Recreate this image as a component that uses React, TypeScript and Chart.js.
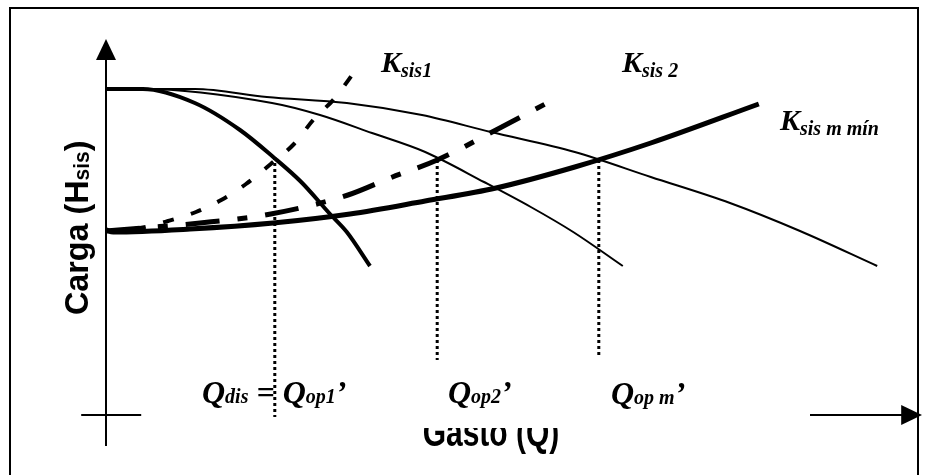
import React, { useEffect, useRef } from "react";
import { Chart, registerables } from "chart.js";

Chart.register(...registerables);

// Pump head curves (flow Q, head H), arbitrary units
const pump1Q = [0, 4.6, 11.1, 16.75, 20.9, 24.4, 28, 30.1, 33];
const pump1H = [81.5, 81.5, 78, 71.25, 64.5, 58.25, 50.25, 45.75, 37.25];

const pump2Q = [0, 4.6, 20.75, 26.75, 33.25, 39.9, 47.25, 53.1, 58.4, 64.6];
const pump2H = [81.5, 81.5, 78, 75, 70.5, 65.75, 58.25, 52, 45.75, 37.25];

const pumpMQ = [0, 11.1, 20.1, 30.1, 39.5, 48.1, 58.6, 68.1, 78, 86.75, 96.4];
const pumpMH = [81.5, 81.5, 79.5, 78, 75, 70.75, 65.75, 59.5, 53, 46, 37.25];

// System curves
const sys1Q = [0, 4.25, 7.75, 11.25, 14.4, 17.5, 20.6, 23.5, 26, 28.5, 31.4];
const sys1H = [46, 46.75, 48.5, 50.75, 53.75, 57.75, 62.75, 67.75, 74, 79, 86.75];

const sys2Q = [0, 4.5, 11.75, 20.6, 30.25, 35.5, 41.4, 48.75, 54.9];
const sys2H = [46, 46.75, 48, 50.25, 55, 59.25, 63.75, 71.25, 77.75];

const sysMQ = [0, 0.9, 10.5, 20.9, 30.5, 39.9, 48.75, 58.6, 68.1, 81.6];
const sysMH = [46.25, 45.75, 46.5, 48, 50.25, 53.5, 56.75, 62, 68, 77.75];

// Operating points: flow and the head where the curves meet
const opQ = [21.1, 41.4, 61.6];
const opH = [64.5, 63.75, 63.75];
const opLowH = [-0.5, 13.75, 14.25];

const pts = (qs: number[], hs: number[]) => qs.map((q, i) => ({ x: q, y: hs[i] }));

type Part = { text: string; size: number; dy?: number };

function drawRich(
  ctx: CanvasRenderingContext2D,
  x: number,
  y: number,
  parts: Part[],
  style: string,
  family: string,
  sx = 1
) {
  ctx.save();
  ctx.translate(x, y);
  ctx.scale(sx, 1);
  ctx.textBaseline = "alphabetic";
  ctx.textAlign = "left";
  let cx = 0;
  for (const p of parts) {
    ctx.font = `${style} ${p.size}px ${family}`;
    ctx.fillText(p.text, cx, p.dy || 0);
    cx += ctx.measureText(p.text).width;
  }
  ctx.restore();
}

const SERIF = '"Liberation Serif", "Times New Roman", serif';
const SANS = '"Liberation Sans", Arial, sans-serif';

const decorations = {
  id: "decorations",
  beforeDraw(chart: any) {
    const { ctx, width, height } = chart;
    ctx.save();
    ctx.fillStyle = "#fff";
    ctx.fillRect(0, 0, width, height);
    ctx.strokeStyle = "#000";
    ctx.lineWidth = 2;
    ctx.strokeRect(10, 8, 908, height + 20);
    ctx.restore();
  },
  afterDatasetsDraw(chart: any) {
    const { ctx } = chart;
    const xs = chart.scales.x;
    const ys = chart.scales.y;
    const X = (v: number) => xs.getPixelForValue(v);
    const Y = (v: number) => ys.getPixelForValue(v);
    ctx.save();
    ctx.strokeStyle = "#000";
    ctx.fillStyle = "#000";
    ctx.lineWidth = 2;

    // vertical axis with arrow
    const x0 = X(0);
    ctx.beginPath();
    ctx.moveTo(x0, Y(-7.75));
    ctx.lineTo(x0, Y(89));
    ctx.stroke();
    ctx.beginPath();
    ctx.moveTo(x0, Y(94));
    ctx.lineTo(x0 - 10, Y(88.75));
    ctx.lineTo(x0 + 10, Y(88.75));
    ctx.closePath();
    ctx.fill();

    // horizontal axis: short cross at origin and arrow at the right
    const y0 = Y(0);
    ctx.beginPath();
    ctx.moveTo(X(-3.1), y0);
    ctx.lineTo(X(4.4), y0);
    ctx.moveTo(X(88), y0);
    ctx.lineTo(X(99.5), y0);
    ctx.stroke();
    ctx.beginPath();
    ctx.moveTo(X(102), y0);
    ctx.lineTo(X(99.4), y0 - 10);
    ctx.lineTo(X(99.4), y0 + 10);
    ctx.closePath();
    ctx.fill();

    // axis titles
    ctx.save();
    ctx.translate(88, 315);
    ctx.rotate(-Math.PI / 2);
    drawRich(ctx, 0, 0, [
      { text: "Carga (H", size: 34 },
      { text: "sis", size: 22, dy: 1 },
      { text: ")", size: 34 },
    ], "bold", SANS, 0.95);
    ctx.restore();

    ctx.save();
    ctx.beginPath();
    ctx.rect(0, 428, chart.width, chart.height - 428);
    ctx.clip();
    ctx.translate(491, 446);
    ctx.scale(0.75, 1);
    ctx.font = `bold 40px ${SANS}`;
    ctx.textAlign = "center";
    ctx.fillText("Gasto (Q)", 0, 0);
    ctx.restore();

    // curve labels
    const kLabel = (x: number, y: number, sub: string) =>
      drawRich(ctx, x, y, [
        { text: "K", size: 30 },
        { text: sub, size: 20, dy: 5 },
      ], "italic bold", SERIF);
    kLabel(381, 72, "sis1");
    kLabel(622, 72, "sis 2");
    kLabel(780, 130, "sis m mín");

    // operating flow labels
    drawRich(ctx, 202, 403, [
      { text: "Q", size: 32 },
      { text: "dis", size: 20 },
      { text: " = ", size: 32 },
      { text: "Q", size: 32 },
      { text: "op1", size: 20 },
      { text: "’", size: 32 },
    ], "italic bold", SERIF);
    drawRich(ctx, 448, 403, [
      { text: "Q", size: 32 },
      { text: "op2", size: 20 },
      { text: "’", size: 32 },
    ], "italic bold", SERIF);
    drawRich(ctx, 611, 404, [
      { text: "Q", size: 32 },
      { text: "op m", size: 20 },
      { text: "’", size: 32 },
    ], "italic bold", SERIF);

    // dotted drops from the operating points, drawn over the labels
    ctx.lineWidth = 3;
    ctx.setLineDash([3, 3]);
    opQ.forEach((q, i) => {
      ctx.beginPath();
      ctx.moveTo(X(q), Y(opH[i]));
      ctx.lineTo(X(q), Y(opLowH[i]));
      ctx.stroke();
    });
    ctx.restore();
  },
};

export default function App() {
  const ref = useRef<HTMLCanvasElement>(null);

  useEffect(() => {
    if (!ref.current) return;
    const line = (data: any, width: number, dash: number[] = []) => ({
      data,
      showLine: true,
      borderColor: "#000",
      backgroundColor: "#000",
      borderWidth: width,
      borderDash: dash,
      pointRadius: 0,
      cubicInterpolationMode: "monotone" as const,
      borderJoinStyle: "round" as const,
      fill: false,
      clip: false as any,
    });
    const chart = new Chart(ref.current, {
      type: "scatter",
      data: {
        datasets: [
          line(pts(pumpMQ, pumpMH), 2),
          line(pts(pump2Q, pump2H), 2),
          line(pts(pump1Q, pump1H), 4),
          line(pts(sysMQ, sysMH), 5),
          line(pts(sys2Q, sys2H), 5, [34, 18, 10, 18]),
          line(pts(sys1Q, sys1H), 4, [11, 18]),
        ],
      },
      options: {
        animation: false,
        responsive: false,
        devicePixelRatio: 1,
        layout: { padding: 0 },
        plugins: { legend: { display: false }, tooltip: { enabled: false } },
        events: [],
        scales: {
          x: { type: "linear", min: -13.25, max: 102.375, display: false },
          y: { type: "linear", min: -15, max: 103.75, display: false },
        },
      },
      plugins: [decorations],
    });
    return () => chart.destroy();
  }, []);

  return (
    <div style={{ position: "fixed", left: 0, top: 0, width: 925, height: 475, background: "#fff" }}>
      <canvas ref={ref} width={925} height={475} />
    </div>
  );
}
